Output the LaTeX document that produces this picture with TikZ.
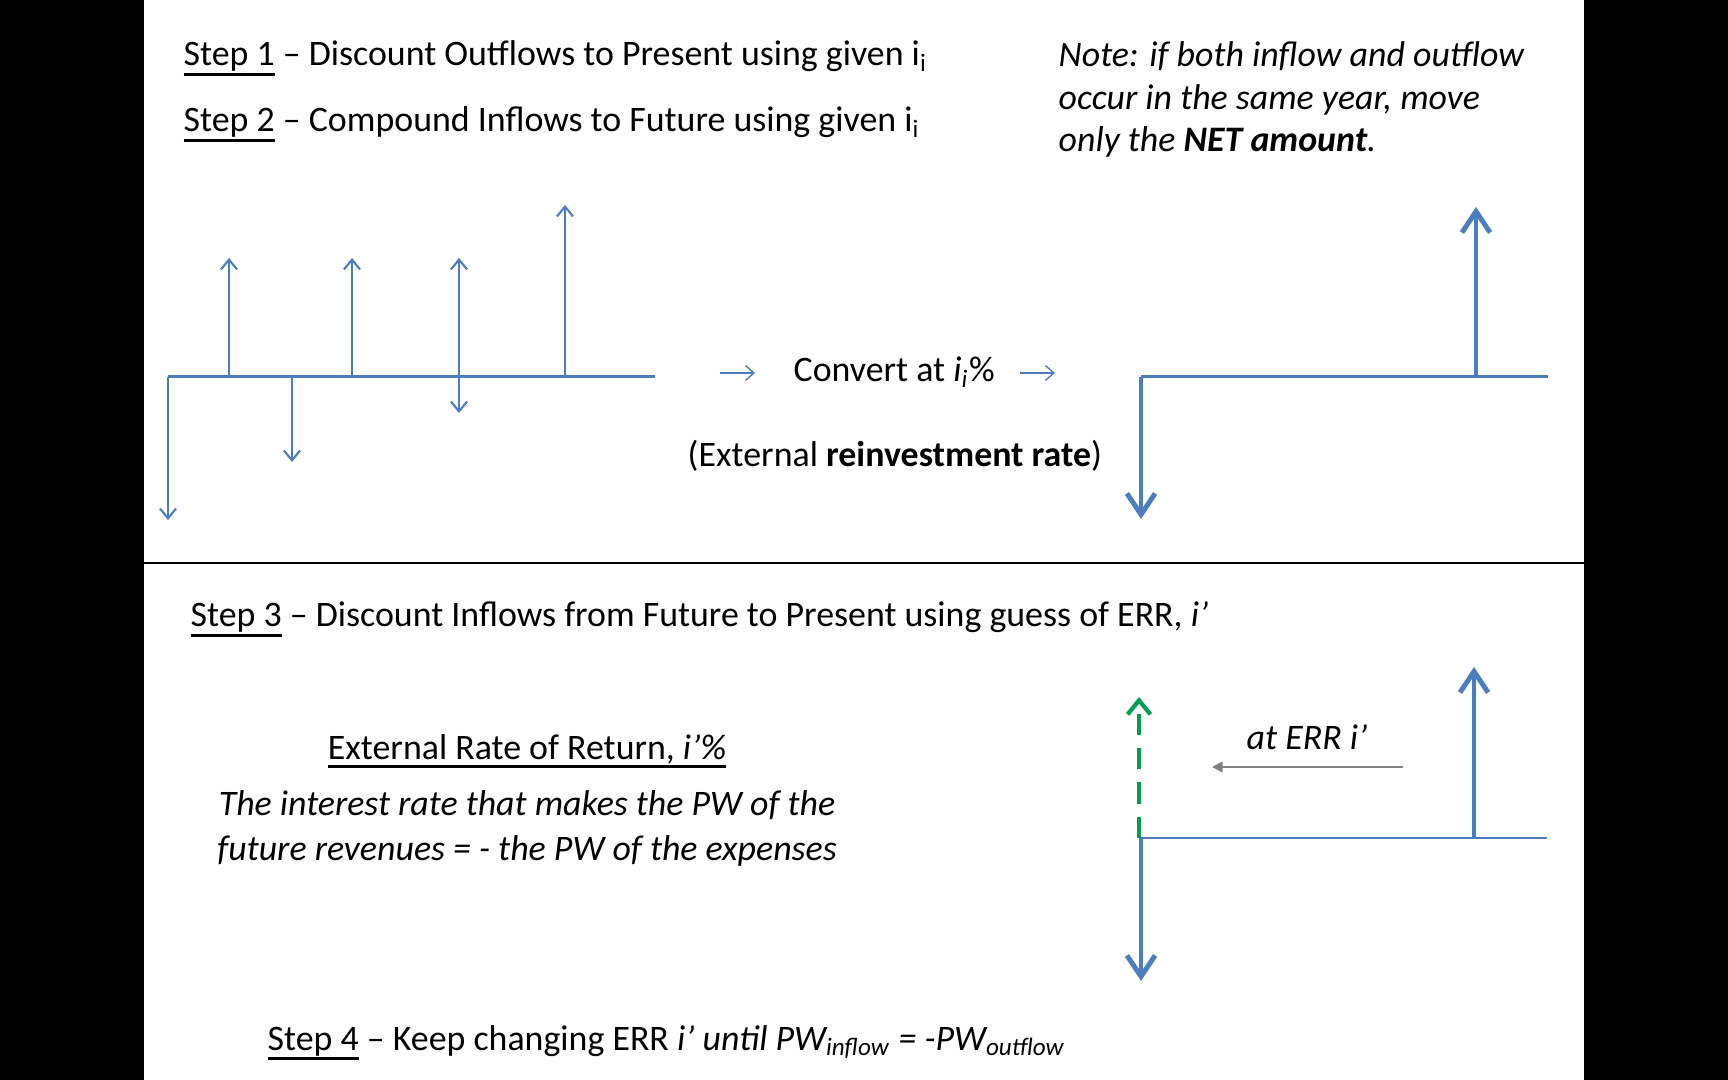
\documentclass[tikz,border=0pt]{standalone}
\usepackage{fontspec}
\setmainfont{Carlito}
\usepackage{xcolor}
\usetikzlibrary{arrows.meta,positioning}
\definecolor{flowblue}{RGB}{74,126,193}
\definecolor{errgreen}{RGB}{0,160,80}
\newcommand{\stepline}[1]{\vtop{\hbox{#1}\kern0.4pt\hrule height 0.75pt}}
\tikzset{
  slidetext/.style={anchor=base west,inner sep=0pt,font=\fontsize{10.2}{12.3}\selectfont},
  timeline/.style={flowblue,line width=0.85pt},
  cashflow/.style={flowblue,line width=0.6pt,-{Straight Barb[length=2.8pt,width=4.6pt]}},
  bigflow/.style={flowblue,line width=1.4pt,-{Straight Barb[length=6pt,width=8pt]}},
  smallarrow/.style={flowblue,line width=0.4pt,-{Straight Barb[length=2.4pt,width=4.2pt]}},
}
\begin{document}
\begin{tikzpicture}[x=0.01cm,y=-0.01cm]
    % slide frame
    \fill[black] (0,0) rectangle (1728,1080);
    \fill[white] (144,0) rectangle (1584,1080);
    \useasboundingbox (0,0) rectangle (1728,1080);
    \draw[line width=0.6pt] (144,563) -- (1584,563);

    % Steps 1 and 2
    \node[slidetext] (step1) at (183,66) {\stepline{Step 1} -- Discount Outflows to Present using given i\textsubscript{i}};
    \node[slidetext] (step2) at (183,132) {\stepline{Step 2} -- Compound Inflows to Future using given i\textsubscript{i}};
    \node[slidetext,align=left,font=\fontsize{10.2}{12.2}\selectfont\itshape] (note) at (1058,152)
        {Note: if both inflow and outflow\\occur in the same year, move\\only the \textbf{NET amount}.};

    % original cash flows
    \draw[timeline] (168,377) -- (655,377);
    \foreach \x/\y in {168/520, 229/258, 292/462, 352/258, 459/258, 459/413, 565/205}
        \draw[cashflow] (\x,377) -- (\x,\y);

    % conversion
    \node[slidetext] (convert) at (793,382) {Convert at \textit{i\textsubscript{i}}\%};
    \draw[smallarrow] (720,373) -- (755,373);
    \draw[smallarrow] (1020,373) -- (1055,373);
    \node[slidetext] (reinvest) at (687,467) {(External \textbf{reinvestment rate})};

    % net cash flows
    \draw[timeline] (1141,377) -- (1548,377);
    \draw[bigflow] (1141,377) -- (1141,519);
    \draw[bigflow] (1476,377) -- (1476,207);

    % Step 3
    \node[slidetext] (step3) at (190,627) {\stepline{Step 3} -- Discount Inflows from Future to Present using guess of ERR, \textit{i’}};
    \node[slidetext,anchor=base] (errtitle) at (527,759) {\stepline{External Rate of Return, \textit{i’\%}}};
    \node[slidetext,anchor=base,align=center,font=\fontsize{10.2}{12.7}\selectfont\itshape] (errdef) at (527,860)
        {The interest rate that makes the PW of the\\future revenues = - the PW of the expenses};

    % discounting at ERR
    \draw[timeline] (1141,838) -- (1547,838);
    \draw[bigflow] (1141,838) -- (1141,981);
    \draw[bigflow] (1474,838) -- (1474,667);
    \draw[errgreen,line width=1.2pt,dash pattern=on 6pt off 3.8pt,-{Straight Barb[length=4pt,width=6.5pt]}] (1139,838) -- (1139,697);
    \node[slidetext,font=\fontsize{10.2}{12.3}\selectfont\itshape] (atERR) at (1246,749) {at ERR i’};
    \draw[gray,line width=0.5pt,-{Triangle[length=3pt,width=3pt]}] (1403,767) -- (1212,767);

    % Step 4
    \node[slidetext] (step4) at (267,1050) {\stepline{Step 4} -- Keep changing ERR \textit{i’ until PW\textsubscript{inflow} = -PW\textsubscript{outflow}}};
\end{tikzpicture}
\end{document}
